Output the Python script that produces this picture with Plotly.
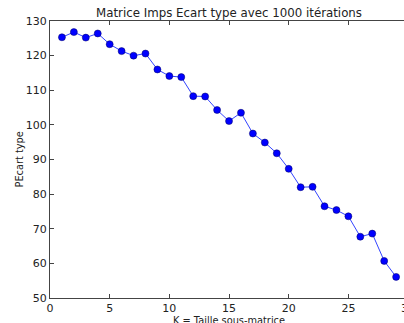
import plotly.graph_objects as go

k_values = list(range(1, 30))
ecart_type = [125.3, 126.8, 125.2, 126.4, 123.3, 121.3, 120.0, 120.6, 116.0, 114.1,
              113.8, 108.3, 108.2, 104.3, 101.1, 103.5, 97.5, 94.9, 91.8, 87.3,
              82.0, 82.1, 76.5, 75.4, 73.6, 67.7, 68.6, 60.7, 56.1]
x_ticks = [0, 5, 10, 15, 20, 25]
y_ticks = [50, 60, 70, 80, 90, 100, 110, 120, 130]

font = "DejaVu Sans"
fig = go.Figure()
fig.add_trace(go.Scatter(
    x=k_values, y=ecart_type, mode="lines+markers",
    line=dict(color="#3344ff", width=1),
    marker=dict(color="#0000ff", size=7, line=dict(color="#000060", width=0.5)),
    cliponaxis=False,
))
fig.update_layout(
    width=404, height=323,
    margin=dict(l=50, r=0, t=21, b=25, autoexpand=False),
    paper_bgcolor="white", plot_bgcolor="white",
    showlegend=False,
    font=dict(family=font, size=11, color="#222"),
    title=dict(text="Matrice Imps Ecart type avec 1000 itérations",
               x=229 / 404, xanchor="center", xref="container",
               y=1 - 12.5 / 323, yanchor="middle", yref="container",
               font=dict(size=11.8, family=font, color="#222")),
)
fig.update_xaxes(range=[0, 29.66], tickvals=x_ticks, ticks="inside", ticklen=4,
                 showgrid=False, zeroline=False, showline=True, linecolor="#444",
                 linewidth=1, mirror="ticks", tickcolor="#444", automargin=False)
fig.update_yaxes(range=[50, 130], tickvals=y_ticks, ticks="inside", ticklen=4,
                 showgrid=False, zeroline=False, showline=True, linecolor="#444",
                 linewidth=1, mirror=False, tickcolor="#444", automargin=False)
fig.add_annotation(x=358 / 354, y=0, xref="paper", yref="paper", text="30", showarrow=False,
                   xanchor="center", yanchor="top", yshift=-2,
                   font=dict(size=11, family=font, color="#222"))
fig.add_annotation(x=179 / 354, y=-22 / 277, xref="paper", yref="paper",
                   text="K = Taille sous-matrice", showarrow=False, yanchor="middle",
                   xanchor="center", font=dict(size=9.8, family=font, color="#222"))
fig.add_annotation(x=-31 / 354, y=0.5, xref="paper", yref="paper",
                   text="PEcart type", showarrow=False, textangle=-90,
                   xanchor="center", yanchor="middle", font=dict(size=9.8, family=font, color="#222"))
fig.write_html("out.html", config={"displayModeBar": False},
               post_script="document.body.style.margin='0';document.body.style.overflow='hidden';")
